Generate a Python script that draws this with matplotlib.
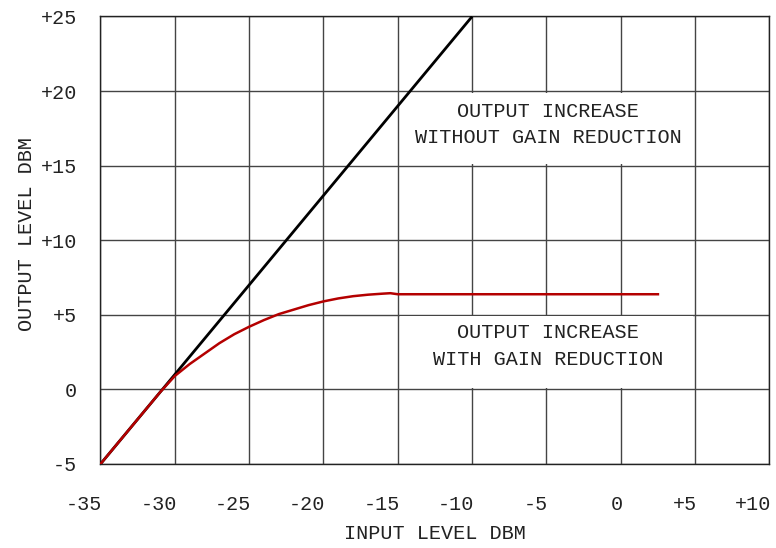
import matplotlib.pyplot as plt
from matplotlib.patches import Rectangle
from matplotlib.transforms import ScaledTranslation

# input level (dBm) vs output level (dBm)
x_nogr = [-35, -10]
y_nogr = [-5, 25]

x_gr = [-35, -31, -30, -29, -28, -27, -26, -25, -24, -23, -22, -21, -20, -19, -18, -17, -16, -15.5, -15, 2.5]
y_gr = [-5, -0.2, 0.9, 1.7, 2.4, 3.1, 3.7, 4.2, 4.65, 5.05, 5.35, 5.65, 5.9, 6.1, 6.25, 6.35, 6.42, 6.45, 6.38, 6.38]

xticks = [-35, -30, -25, -20, -15, -10, -5, 0, 5, 10]
xlabels = ["-35", "-30", "-25", "-20", "-15", "-10", "-5", "0", "+5", "+10"]
yticks = [-5, 0, 5, 10, 15, 20, 25]
ylabels = ["-5", "0", "+5", "+10", "+15", "+20", "+25"]

plt.rcParams['font.family'] = ['Liberation Mono', 'DejaVu Sans']
FS = 14.5
TC = "#222222"

fig = plt.figure(figsize=(7.76, 5.48), dpi=100)
ax = fig.add_axes([0.1295, 0.1533, 0.862, 0.8166])

ax.plot(x_nogr, y_nogr, color="black", lw=2.0, solid_capstyle="butt", zorder=3)
ax.plot(x_gr, y_gr, color="#b40000", lw=1.8, zorder=3)

ax.set_xlim(-35, 10)
ax.set_ylim(-5, 25)
ax.set_xticks(xticks)
ax.set_xticklabels(xlabels, ha="right")
ax.set_yticks(yticks)
ax.set_yticklabels(ylabels)
ax.tick_params(length=0, labelsize=FS, colors=TC)
ax.tick_params(axis="x", pad=22)
ax.tick_params(axis="y", pad=17)
shift = ScaledTranslation(2 / 100, 0, fig.dpi_scale_trans)
for lab in ax.get_xticklabels():
    lab.set_transform(lab.get_transform() + shift)
ax.grid(True, color="#444444", lw=1.0)
ax.set_axisbelow(True)
for s in ax.spines.values():
    s.set_color("#222222")
    s.set_linewidth(1.0)

ax.set_xlabel("INPUT LEVEL DBM", fontsize=FS, color=TC)
ax.set_ylabel("OUTPUT LEVEL DBM", fontsize=FS, color=TC)
ax.xaxis.set_label_coords(0.5, -0.135)
ax.yaxis.set_label_coords(-0.097, 0.513)

# white panels behind the annotations hide the vertical grid lines there
ax.add_patch(Rectangle((-14.85, 15.1), 19.7, 4.8, facecolor="white", edgecolor="none", zorder=1))
ax.add_patch(Rectangle((-14.85, 0.1), 19.7, 4.8, facecolor="white", edgecolor="none", zorder=1))

ax.text(-4.9, 18.6, "OUTPUT INCREASE", ha="center", va="center", fontsize=FS, color=TC)
ax.text(-4.9, 16.9, "WITHOUT GAIN REDUCTION", ha="center", va="center", fontsize=FS, color=TC)
ax.text(-4.9, 3.8, "OUTPUT INCREASE", ha="center", va="center", fontsize=FS, color=TC)
ax.text(-4.9, 2.0, "WITH GAIN REDUCTION", ha="center", va="center", fontsize=FS, color=TC)

fig.savefig("out.png", dpi=100)
